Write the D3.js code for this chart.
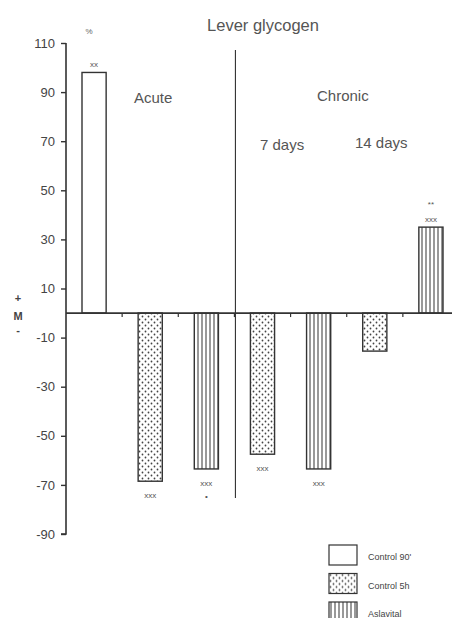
<!DOCTYPE html>
<html>
<head>
<meta charset="utf-8">
<script src="https://cdn.jsdelivr.net/npm/d3@7"></script>
<style>
  body { margin: 0; background: #fff; }
  text { font-family: "Liberation Sans", Arial, sans-serif; }
</style>
</head>
<body>
<script>
var w = 452, h = 618;

// data
var groups = ["a1", "a2", "a3", "c7a", "c7b", "c14a", "c14b"];
var series = ["Control 90'", "Control 5h", "Aslavital", "Control 5h", "Aslavital", "Control 5h", "Aslavital"];
var values = [98, -68.5, -63.5, -57.5, -63.5, -15.5, 35];
var marksTop = ["xx", "xxx", "xxx", "xxx", "xxx", "", "**"];
var marksBottom = ["", "", "\u2022", "", "", "", "xxx"];
var yTicks = [110, 90, 70, 50, 30, 10, -10, -30, -50, -70, -90];
var legendNames = ["Control 90'", "Control 5h", "Aslavital"];

var svg = d3.select("body").append("svg")
    .attr("width", w)
    .attr("height", h);

var defs = svg.append("defs");
// dotted fill
var dots = defs.append("pattern")
    .attr("id", "dots")
    .attr("patternUnits", "userSpaceOnUse")
    .attr("width", 6).attr("height", 6);
dots.append("rect").attr("width", 6).attr("height", 6).attr("fill", "#fff");
dots.append("circle").attr("cx", 1.5).attr("cy", 1.5).attr("r", 0.9).attr("fill", "#444");
dots.append("circle").attr("cx", 4.5).attr("cy", 4.5).attr("r", 0.9).attr("fill", "#444");
// vertical stripes
var stripes = defs.append("pattern")
    .attr("id", "stripes")
    .attr("patternUnits", "userSpaceOnUse")
    .attr("width", 4).attr("height", 4);
stripes.append("rect").attr("width", 4).attr("height", 4).attr("fill", "#fff");
stripes.append("line").attr("x1", 2).attr("x2", 2).attr("y1", 0).attr("y2", 4)
    .attr("stroke", "#333").attr("stroke-width", 1);

var fill = d3.scaleOrdinal()
    .domain(legendNames)
    .range(["#fff", "url(#dots)", "url(#stripes)"]);

var x = d3.scaleBand()
    .domain(groups)
    .range([66, 459])
    .paddingInner(0.57)
    .paddingOuter(0.285);

var y = d3.scaleLinear()
    .domain([-90, 110])
    .range([534, 43]);

var ink = "#333";

// title and section labels
svg.append("text").attr("x", 263).attr("y", 31).attr("text-anchor", "middle")
    .attr("font-size", 16.5).attr("fill", "#555").text("Lever glycogen");
svg.append("text").attr("x", 134).attr("y", 103)
    .attr("font-size", 15).attr("fill", "#555").text("Acute");
svg.append("text").attr("x", 317).attr("y", 101)
    .attr("font-size", 15).attr("fill", "#555").text("Chronic");
svg.append("text").attr("x", 260).attr("y", 150)
    .attr("font-size", 15).attr("fill", "#555").text("7 days");
svg.append("text").attr("x", 355).attr("y", 148)
    .attr("font-size", 15).attr("fill", "#555").text("14 days");
svg.append("text").attr("x", 89).attr("y", 34).attr("text-anchor", "middle")
    .attr("font-size", 8).attr("fill", "#666").text("%");

// +M- label
svg.append("text").attr("x", 18).attr("y", 302).attr("text-anchor", "middle")
    .attr("font-size", 11).attr("font-weight", "bold").attr("fill", "#444").text("+");
svg.append("text").attr("x", 18).attr("y", 320).attr("text-anchor", "middle")
    .attr("font-size", 11).attr("font-weight", "bold").attr("fill", "#444").text("M");
svg.append("text").attr("x", 18).attr("y", 334).attr("text-anchor", "middle")
    .attr("font-size", 11).attr("font-weight", "bold").attr("fill", "#444").text("-");

// y axis
var yAxis = d3.axisLeft(y).tickValues(yTicks).tickSize(5).tickPadding(6)
    .tickFormat(function(d){ return String(d); });
var ga = svg.append("g")
    .attr("transform", "translate(66,0)")
    .call(yAxis);
ga.select(".domain").attr("stroke", ink).attr("stroke-width", 1.6).attr("d", "M0," + y(110) + "V" + y(-90) + "H-5");
ga.selectAll(".tick line").attr("stroke", ink).attr("stroke-width", 1.4);
ga.selectAll(".tick text").attr("font-size", 13).attr("fill", "#444")
    .attr("font-family", "'Liberation Sans', Arial, sans-serif");

// bars
svg.selectAll(".bar")
    .data(values)
    .enter()
    .append("rect")
    .attr("class", "bar")
    .attr("x", function(d, i){ return x(groups[i]); })
    .attr("width", x.bandwidth())
    .attr("y", function(d){ return d > 0 ? y(d) : y(0); })
    .attr("height", function(d){ return Math.abs(y(d) - y(0)); })
    .attr("fill", function(d, i){ return fill(series[i]); })
    .attr("stroke", ink)
    .attr("stroke-width", 1.4);

// zero line with ticks between bars
svg.append("line").attr("x1", 66).attr("x2", 452).attr("y1", y(0)).attr("y2", y(0))
    .attr("stroke", ink).attr("stroke-width", 1.8);
svg.selectAll(".zt")
    .data(groups.slice(1))
    .enter()
    .append("line")
    .attr("class", "zt")
    .attr("x1", function(d){ return x(d) - x.step() * x.paddingInner() / 2; })
    .attr("x2", function(d){ return x(d) - x.step() * x.paddingInner() / 2; })
    .attr("y1", y(0)).attr("y2", y(0) + 4)
    .attr("stroke", ink).attr("stroke-width", 1.2);

// divider acute / chronic
var divX = x(groups[3]) - x.step() * x.paddingInner() / 2 + 1;
svg.append("line").attr("x1", divX).attr("x2", divX).attr("y1", 50).attr("y2", 498)
    .attr("stroke", ink).attr("stroke-width", 1.1);

// significance marks
svg.selectAll(".m1")
    .data(values)
    .enter()
    .append("text")
    .attr("class", "m1")
    .attr("x", function(d, i){ return x(groups[i]) + x.bandwidth() / 2; })
    .attr("y", function(d, i){ return d > 0 ? y(d) - (marksBottom[i] ? 20 : 5) : y(d) + 17; })
    .attr("text-anchor", "middle")
    .attr("font-size", 8)
    .attr("fill", "#555")
    .text(function(d, i){ return marksTop[i]; });
svg.selectAll(".m2")
    .data(values)
    .enter()
    .append("text")
    .attr("class", "m2")
    .attr("x", function(d, i){ return x(groups[i]) + x.bandwidth() / 2; })
    .attr("y", function(d){ return d > 0 ? y(d) - 5 : y(d) + 30; })
    .attr("text-anchor", "middle")
    .attr("font-size", 8)
    .attr("fill", "#555")
    .text(function(d, i){ return marksBottom[i]; });

// legend
var legend = svg.selectAll(".legend")
    .data(legendNames)
    .enter()
    .append("g")
    .attr("class", "legend")
    .attr("transform", function(d, i){ return "translate(329," + (545 + i * 28.5) + ")"; });
legend.append("rect")
    .attr("width", 28).attr("height", 20)
    .attr("fill", function(d){ return fill(d); })
    .attr("stroke", ink).attr("stroke-width", 1.2);
legend.append("text")
    .attr("x", 39).attr("y", 15)
    .attr("font-size", 9).attr("fill", "#444")
    .text(function(d){ return d; });
</script>
</body>
</html>
